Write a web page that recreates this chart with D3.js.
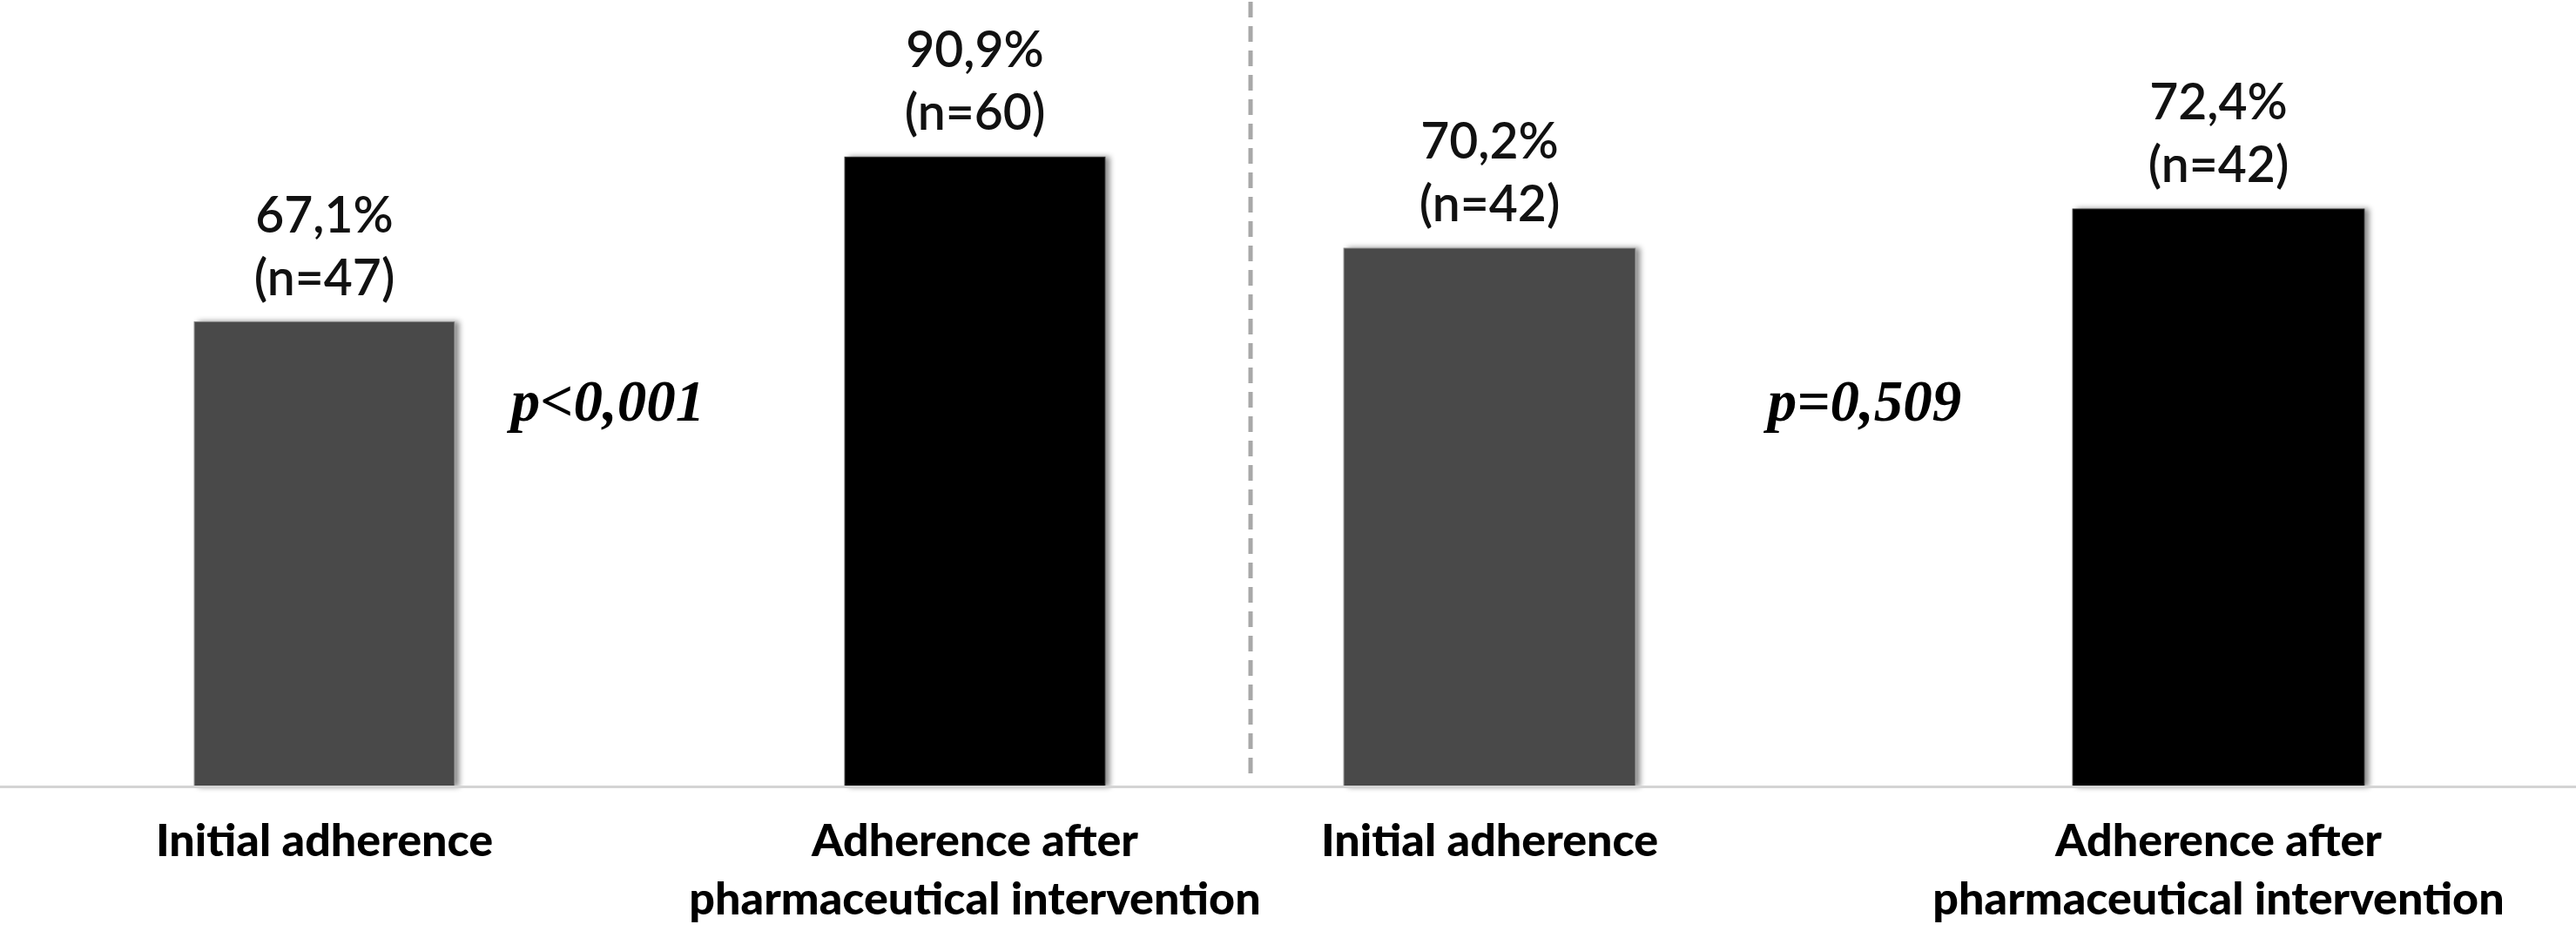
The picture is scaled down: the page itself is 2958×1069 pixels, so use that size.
<!DOCTYPE html>
<html>
<head>
<meta charset="utf-8">
<script src="https://cdn.jsdelivr.net/npm/d3@7"></script>
<style>
  html, body { margin: 0; padding: 0; background: #ffffff; }
  svg { display: block; }
</style>
</head>
<body>
<svg id="chart" width="2958" height="1069"></svg>
<script>
// ---------------- DATA ----------------
const categories = ["Initial adherence", "Adherence after pharmaceutical intervention"];
const categoryLines = [["Initial adherence"], ["Adherence after", "pharmaceutical intervention"]];
const leftValues = [67.1, 90.9];
const leftN = [47, 60];
const rightValues = [70.2, 72.4];
const rightN = [42, 42];
const pValues = ["p<0,001", "p=0,509"];

// ---------------- LAYOUT ----------------
const W = 2958, H = 1069;
const baseY = 903;
const svg = d3.select("#chart");
const locale = d3.formatLocale({decimal: ",", thousands: ".", grouping: [3], currency: ["", "€"]});
const fmt = locale.format(".1f");

const defs = svg.append("defs");
const f = defs.append("filter").attr("id", "shadow")
  .attr("x", "-10%").attr("y", "-10%").attr("width", "130%").attr("height", "130%");
f.append("feDropShadow").attr("dx", 5).attr("dy", 0).attr("stdDeviation", 3)
  .attr("flood-color", "#000").attr("flood-opacity", 0.45);

const panels = [
  {
    values: leftValues, n: leftN, p: pValues[0],
    x: d3.scaleBand().domain(categories).range([-1, 1493]).paddingInner(0.6).paddingOuter(0.3),
    y: d3.scaleLinear().domain([0, 100]).range([baseY, 108]),
    pX: 698
  },
  {
    values: rightValues, n: rightN, p: pValues[1],
    x: d3.scaleBand().domain(categories).range([1292, 2966]).paddingInner(0.6).paddingOuter(0.3),
    y: d3.scaleLinear().domain([40, 72.4]).range([baseY, 240]),
    pX: 2141
  }
];

const colors = ["#484848", "#000000"];

panels.forEach(pn => {
  const g = svg.append("g");
  const data = categories.map((c, i) => ({c, v: pn.values[i], n: pn.n[i], i}));

  g.selectAll("rect.bar").data(data).join("rect")
    .attr("class", "bar")
    .attr("x", d => pn.x(d.c))
    .attr("y", d => pn.y(d.v))
    .attr("width", pn.x.bandwidth())
    .attr("height", d => baseY - pn.y(d.v))
    .attr("fill", d => colors[d.i])
    .attr("stroke", d => d.i === 0 ? "#8a8a8a" : "#333")
    .attr("stroke-width", 1)
    .attr("filter", "url(#shadow)");

  const lab = g.selectAll("g.vlab").data(data).join("g").attr("class", "vlab")
    .attr("transform", d => `translate(${pn.x(d.c) + pn.x.bandwidth() / 2},${pn.y(d.v)})`);
  lab.append("text")
    .attr("y", -103)
    .attr("text-anchor", "middle")
    .attr("font-family", "Lato, 'Open Sans', sans-serif")
    .attr("font-weight", 600)
    .attr("font-size", 57)
    .attr("fill", "#111")
    .text(d => fmt(d.v) + "%");
  lab.append("text")
    .attr("y", -31)
    .attr("text-anchor", "middle")
    .attr("font-family", "Lato, 'Open Sans', sans-serif")
    .attr("font-weight", 600)
    .attr("font-size", 57)
    .attr("fill", "#111")
    .text(d => `(n=${d.n})`);

  // category labels
  const cl = g.selectAll("text.cat").data(data).join("text").attr("class", "cat")
    .attr("text-anchor", "middle")
    .attr("font-family", "Lato, sans-serif")
    .attr("font-weight", 900)
    .attr("font-size", 52)
    .attr("fill", "#000")
    .attr("transform", d => `translate(${pn.x(d.c) + pn.x.bandwidth() / 2},983)`);
  cl.selectAll("tspan").data(d => categoryLines[d.i]).join("tspan")
    .attr("x", 0)
    .attr("dy", (d, j) => j === 0 ? 0 : 67)
    .text(d => d);

  // p-value
  g.append("text")
    .attr("x", pn.pX)
    .attr("y", 483)
    .attr("text-anchor", "middle")
    .attr("font-family", "'Liberation Serif', 'Times New Roman', serif")
    .attr("font-weight", "bold")
    .attr("font-style", "italic")
    .attr("font-size", 67)
    .attr("fill", "#000")
    .text(pn.p);
});

// baseline
svg.append("line")
  .attr("x1", 0).attr("x2", W)
  .attr("y1", baseY + 0.5).attr("y2", baseY + 0.5)
  .attr("stroke", "#d4d4d4").attr("stroke-width", 3);

// dashed separator
svg.append("line")
  .attr("x1", 1436).attr("x2", 1436)
  .attr("y1", 2).attr("y2", 890)
  .attr("stroke", "#a8a8a8").attr("stroke-width", 5)
  .attr("stroke-dasharray", "18,10");
</script>
</body>
</html>
